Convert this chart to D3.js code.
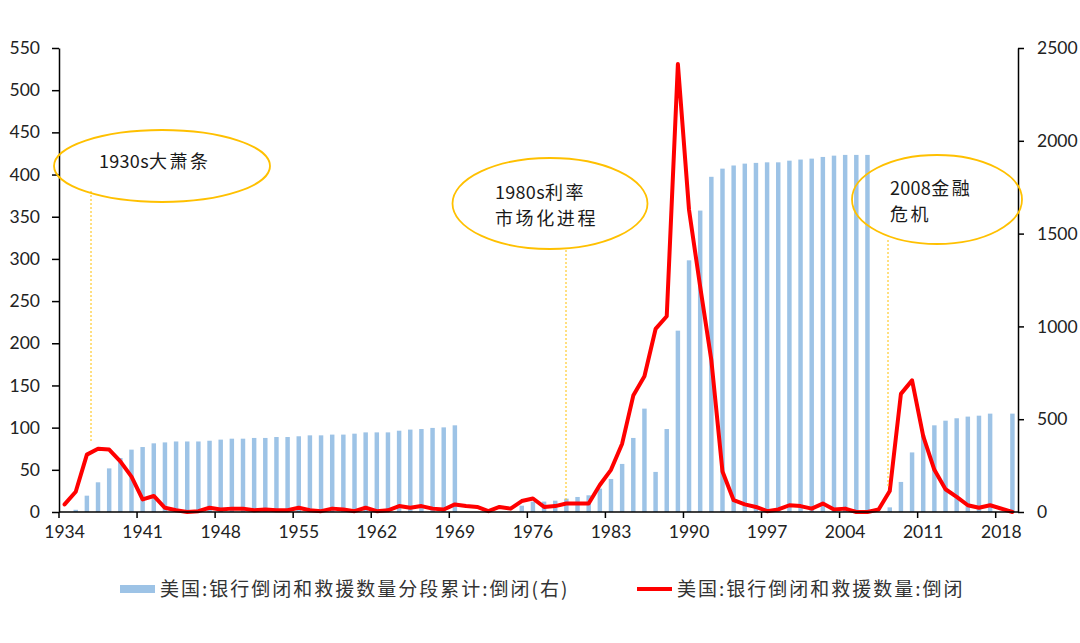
<!DOCTYPE html>
<html>
<head>
<meta charset="utf-8">
<script src="https://cdn.jsdelivr.net/npm/d3@7/dist/d3.min.js"></script>
<style>
  html, body { margin: 0; padding: 0; background: #fff; }
  svg { display: block; }
  .tick text { font-family: Lato, "Open Sans", sans-serif; font-size: 17.5px; fill: #222; }
</style>
</head>
<body>
<svg id="chart" width="1080" height="643"></svg>
<script>
const years = d3.range(1934, 2020);
const xLabels = [1934, 1941, 1948, 1955, 1962, 1969, 1976, 1983, 1990, 1997, 2004, 2011, 2018];
const leftTicks = [0, 50, 100, 150, 200, 250, 300, 350, 400, 450, 500, 550];
const rightTicks = [0, 500, 1000, 1500, 2000, 2500];

// 美国:银行倒闭和救援数量:倒闭 (left axis)
const failures = [
  9, 24, 68, 75, 74, 60, 42, 15, 19, 5,          // 1934-1943
  2, 0, 1, 5, 3, 4, 4, 2, 3, 2,                  // 1944-1953
  2, 5, 2, 1, 4, 3, 1, 5, 1, 2,                  // 1954-1963
  7, 5, 7, 4, 3, 9, 7, 6, 1, 6,                  // 1964-1973
  4, 13, 16, 6, 7, 10, 10, 10, 32, 50,           // 1974-1983
  81, 138, 161, 217, 232, 531, 358, 267, 180, 48, // 1984-1993
  14, 9, 6, 1, 3, 8, 7, 4, 10, 3,                // 1994-2003
  4, 0, 0, 3, 25, 140, 156, 90, 50, 27,          // 2004-2013
  18, 8, 5, 8, null, 0                           // 2014-2019
];

// 美国:银行倒闭和救援数量分段累计:倒闭(右) (right axis)
const cumulative = [
  null, 12, 88, 160, 235, 291, 336, 350, 370, 375,          // 1934-1943
  380, 380, 380, 384, 390, 395, 395, 399, 399, 404,         // 1944-1953
  404, 408, 413, 413, 417, 417, 422, 429, 429, 429,         // 1954-1963
  438, 444, 447, 453, 456, 467, null, null, null, null,     // 1964-1973
  null, 34, 56, 56, 61, 72, 81, 90, 126, 178,               // 1974-1983
  259, 399, 557, 216, 447, 977, 1356, 1624, 1806, 1850,     // 1984-1993
  1867, 1877, 1881, 1884, 1884, 1893, 1899, 1904, 1913, 1920, // 1994-2003
  1924, 1924, 1924, null, 25, 162, 321, 415, 467, 492,      // 2004-2013
  505, 514, 519, 530, null, 530                             // 2014-2019
];

const annotations = [
  { lines: ["1930s大萧条"], cx: 162, cy: 166, rx: 108, ry: 36, tx: 99, ty: 162, lx: 91, y1: 191, y2: 442 },
  { lines: ["1980s利率", "市场化进程"], cx: 550, cy: 203.5, rx: 97.5, ry: 45.5, tx: 495, ty: 193, lx: 566, y1: 250, y2: 500 },
  { lines: ["2008金融", "危机"], cx: 937, cy: 199.5, rx: 85, ry: 44.5, tx: 890, ty: 189, lx: 888, y1: 240, y2: 488 }
];

const svg = d3.select("#chart");
const mLeft = 59, mRight = 1018, mTop = 48, mBottom = 512;

const x = d3.scaleBand().domain(years).range([mLeft, mRight]).paddingInner(0.6).paddingOuter(0.3);
const step = x.step();
const cx = d => x(d) + x.bandwidth() / 2;
const yL = d3.scaleLinear().domain([0, 550]).range([mBottom, mTop]);
const yR = d3.scaleLinear().domain([0, 2500]).range([mBottom, mTop]);

// bars
const barData = years.map((yr, i) => ({ yr, v: cumulative[i] })).filter(d => d.v != null);
svg.append("g").selectAll("rect").data(barData).join("rect")
  .attr("x", d => x(d.yr))
  .attr("width", x.bandwidth())
  .attr("y", d => yR(d.v))
  .attr("height", d => yR(0) - yR(d.v))
  .attr("fill", "#9dc3e6");

// line
const lineData = years.map((yr, i) => ({ yr, v: failures[i] })).filter(d => d.v != null);
svg.append("path").datum(lineData)
  .attr("fill", "none").attr("stroke", "#ff0000").attr("stroke-width", 4)
  .attr("stroke-linejoin", "round").attr("stroke-linecap", "round")
  .attr("d", d3.line().x(d => cx(d.yr)).y(d => yL(d.v)));

// left axis
const gl = svg.append("g").attr("transform", `translate(${mLeft},0)`)
  .call(d3.axisLeft(yL).tickValues(leftTicks).tickSize(7).tickPadding(12).tickSizeOuter(0));
gl.selectAll("path, line").attr("stroke", "#000").attr("stroke-width", 1.5);

// right axis
const gr = svg.append("g").attr("transform", `translate(${mRight},0)`)
  .call(d3.axisRight(yR).tickValues(rightTicks).tickFormat(d3.format("d"))
    .tickSize(6).tickPadding(13).tickSizeOuter(0));
gr.selectAll("path, line").attr("stroke", "#000").attr("stroke-width", 1.5);

// bottom axis: labels at category centres, ticks at category left edges
const gb = svg.append("g").attr("transform", `translate(0,${mBottom})`)
  .call(d3.axisBottom(x).tickValues(xLabels).tickSize(0).tickPadding(14).tickSizeOuter(0));
gb.select("path").remove();
svg.append("line").attr("x1", mLeft).attr("x2", mRight).attr("y1", mBottom).attr("y2", mBottom)
  .attr("stroke", "#000").attr("stroke-width", 1.5);
svg.append("g").selectAll("line").data(xLabels).join("line")
  .attr("x1", d => cx(d) - step / 2).attr("x2", d => cx(d) - step / 2)
  .attr("y1", mBottom).attr("y2", mBottom + 6)
  .attr("stroke", "#000").attr("stroke-width", 1.5);

// annotations
const ga = svg.append("g");
annotations.forEach(a => {
  ga.append("line")
    .attr("x1", a.lx).attr("x2", a.lx)
    .attr("y1", a.y1).attr("y2", a.y2)
    .attr("stroke", "#ffc000").attr("stroke-width", 1).attr("stroke-dasharray", "2,2");
  ga.append("ellipse")
    .attr("cx", a.cx).attr("cy", a.cy).attr("rx", a.rx).attr("ry", a.ry)
    .attr("fill", "none").attr("stroke", "#ffc000").attr("stroke-width", 1.8);
  a.lines.forEach((t, i) => {
    const txt = ga.append("text")
      .attr("x", a.tx).attr("y", a.ty + i * 26).attr("dy", "0.35em")
      .attr("font-family", "'Noto Sans CJK SC', sans-serif").attr("font-weight", 400)
      .attr("font-size", 18).attr("fill", "#1a1a1a");
    const m = t.match(/^([\x00-\x7f]*)(.*)$/);
    if (m[1]) txt.append("tspan").attr("letter-spacing", "0.3px").text(m[1]);
    if (m[2]) txt.append("tspan").attr("letter-spacing", "2.6px").text(m[2]);
  });
});

// legend
const lg = svg.append("g").attr("font-family", "'Noto Sans CJK SC', sans-serif")
  .attr("font-size", 19).attr("fill", "#333");
lg.append("rect").attr("x", 120).attr("y", 585).attr("width", 35).attr("height", 8).attr("fill", "#9dc3e6");
lg.append("text").attr("x", 160).attr("y", 589).attr("dy", "0.35em").attr("letter-spacing", "2px")
  .text("美国:银行倒闭和救援数量分段累计:倒闭(右)");
lg.append("line").attr("x1", 637).attr("x2", 672).attr("y1", 589).attr("y2", 589)
  .attr("stroke", "#ff0000").attr("stroke-width", 4);
lg.append("text").attr("x", 677).attr("y", 589).attr("dy", "0.35em").attr("letter-spacing", "2px")
  .text("美国:银行倒闭和救援数量:倒闭");
</script>
</body>
</html>
